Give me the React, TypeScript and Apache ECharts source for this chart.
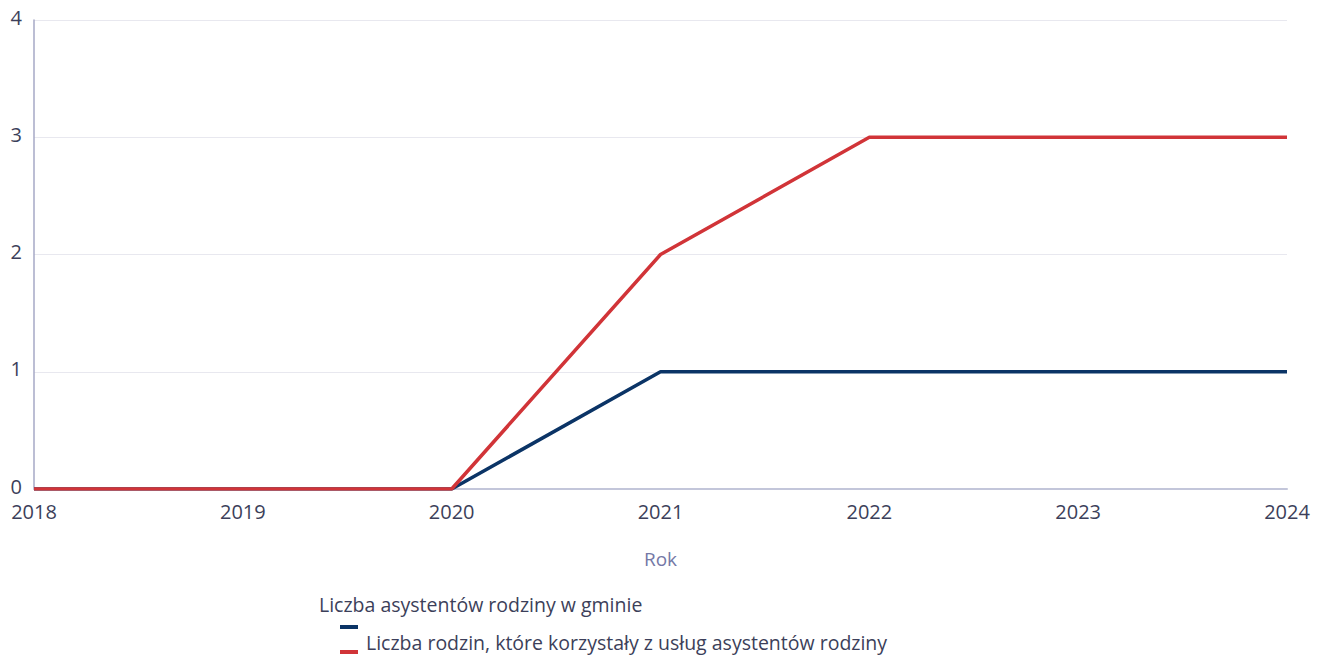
import React, { useEffect, useRef } from "react";
import * as echarts from "echarts";

const years = ["2018", "2019", "2020", "2021", "2022", "2023", "2024"];
const asystenci = [0, 0, 0, 1, 1, 1, 1];
const rodziny = [0, 0, 0, 2, 3, 3, 3];
const seriesNames = [
  "Liczba asystentów rodziny w gminie",
  "Liczba rodzin, które korzystały z usług asystentów rodziny",
];
const colors = ["#0b3466", "#d13438"];

export default function App() {
  const ref = useRef<HTMLDivElement>(null);
  useEffect(() => {
    if (!ref.current) return;
    const chart = echarts.init(ref.current, undefined, { renderer: "svg" });
    const font = "'Open Sans', 'Noto Sans', sans-serif";
    chart.setOption({
      animation: false,
      textStyle: { fontFamily: font },
      grid: { left: 34, right: 34, top: 20, bottom: 169, containLabel: false },
      xAxis: {
        type: "category",
        data: years,
        boundaryGap: false,
        name: "Rok",
        nameLocation: "middle",
        nameGap: 60,
        nameTextStyle: { color: "#7478a6", fontSize: 19, fontFamily: font },
        axisLine: { lineStyle: { color: "#c3c6da", width: 2 } },
        axisTick: { show: false },
        axisLabel: { color: "#3c3f5a", fontSize: 20, margin: 12, fontFamily: font },
        splitLine: { show: false },
      },
      yAxis: {
        type: "value",
        min: 0,
        max: 4,
        interval: 1,
        axisLine: { show: true, lineStyle: { color: "#a6a8c6", width: 1.5 } },
        axisTick: { show: false },
        axisLabel: {
          color: "#3c3f5a",
          fontSize: 20,
          margin: 12,
          fontFamily: font,
          verticalAlign: "bottom",
          lineHeight: 20,
          padding: [0, 0, -7, 0],
        },
        splitLine: { lineStyle: { color: "#e8e8ef", width: 1 } },
      },
      series: [
        {
          name: seriesNames[0],
          type: "line",
          data: asystenci,
          symbol: "none",
          lineStyle: { color: colors[0], width: 3.5 },
          itemStyle: { color: colors[0] },
          z: 2,
        },
        {
          name: seriesNames[1],
          type: "line",
          data: rodziny,
          symbol: "none",
          lineStyle: { color: colors[1], width: 3.5 },
          itemStyle: { color: colors[1] },
          z: 3,
        },
      ],
      graphic: [
        {
          type: "text",
          left: 319,
          top: 594,
          style: { text: seriesNames[0], fill: "#3c3f5a", fontSize: 19.5, fontFamily: font },
        },
        {
          type: "rect",
          left: 340,
          top: 625,
          shape: { width: 18, height: 4 },
          style: { fill: colors[0] },
        },
        {
          type: "rect",
          left: 340,
          top: 650,
          shape: { width: 18, height: 4 },
          style: { fill: colors[1] },
        },
        {
          type: "text",
          left: 366,
          top: 632,
          style: { text: seriesNames[1], fill: "#3c3f5a", fontSize: 19.5, fontFamily: font },
        },
      ],
    });
    return () => chart.dispose();
  }, []);
  return <div ref={ref} style={{ width: 1321, height: 658, position: "absolute", left: 0, top: 0 }} />;
}
